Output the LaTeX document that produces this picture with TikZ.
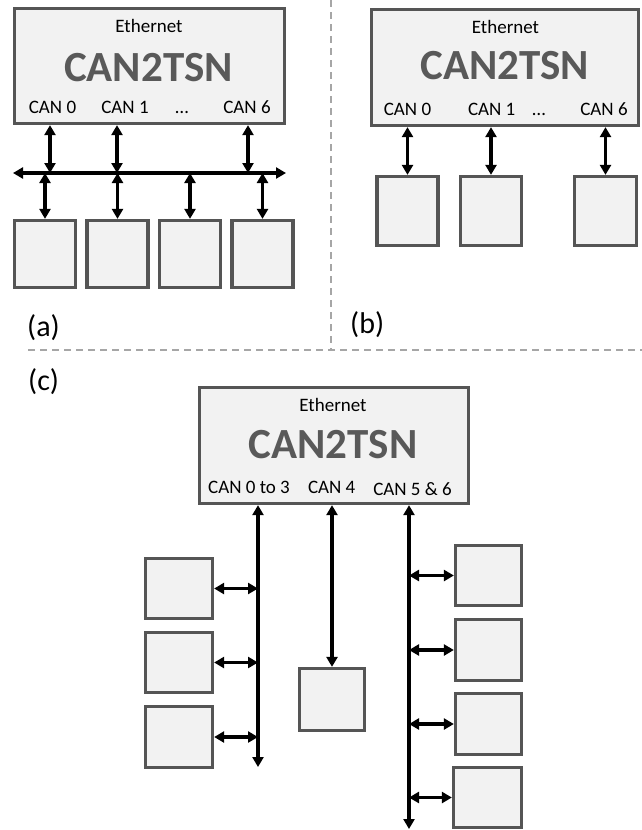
\documentclass[tikz,border=0pt]{standalone}
\usepackage{fontspec}
\setmainfont{Carlito}
\usetikzlibrary{arrows.meta}
\definecolor{boxfill}{HTML}{F2F2F2}
\definecolor{boxdraw}{HTML}{555555}
\definecolor{titlegray}{HTML}{595959}
\definecolor{sepgray}{HTML}{A6A6A6}
\tikzset{
  unit/.style={draw=boxdraw, fill=boxfill, line width=3.3pt, inner sep=0pt},
  txt/.style={font=\fontsize{19}{21}\selectfont, anchor=base, inner sep=0pt},
  ttl/.style={font=\fontsize{43}{45}\selectfont\bfseries, text=titlegray, anchor=base, inner sep=0pt},
  lab/.style={font=\fontsize{30}{32}\selectfont, anchor=base west, inner sep=0pt},
  link/.style={line width=3.4pt, {Triangle[length=10pt,width=11pt]}-{Triangle[length=10pt,width=11pt]}},
  sepline/.style={draw=sepgray, line width=1.5pt, dash pattern=on 7pt off 5pt},
}
\begin{document}
\begin{tikzpicture}[x=1pt,y=-1pt]
\useasboundingbox (0,0) rectangle (642,830);
% separators
\coordinate (vsTop) at (331,0);
\coordinate (vsBot) at (331,350);
\coordinate (hsL) at (28,350);
\coordinate (hsR) at (642,350);
\draw[sepline] (vsTop) -- (vsBot);
\draw[sepline] (hsL) -- (hsR);

% ---------------- (a) ----------------
\node[unit, minimum width=270pt, minimum height=115pt] (A) at (149.5,66) {};
\node[txt] (Aeth) at (149,32) {Ethernet};
\node[ttl] (Attl) at (148.5,81) {CAN2TSN};
\node[txt] (Ac0) at (52.5,113) {CAN 0};
\node[txt] (Ac1) at (125,113) {CAN 1};
\node[txt] (Acd) at (182,113) {…};
\node[txt] (Ac6) at (247,113) {CAN 6};
\foreach \i/\cx in {1/45,2/117.5,3/190,4/262.5}
  \node[unit, minimum width=61pt, minimum height=67pt] (a\i) at (\cx,254) {};
\coordinate (busAL) at (13,173);
\coordinate (busAR) at (286,173);
\draw[link] (busAL) -- (busAR);
\coordinate (busA0) at (50,173);
\coordinate (busA1) at (117,173);
\coordinate (busA6) at (248,173);
\draw[link] (A.south -| busA0) -- (busA0);
\draw[link] (A.south -| busA1) -- (busA1);
\draw[link] (A.south -| busA6) -- (busA6);
\foreach \i in {1,2,3,4}
  \draw[link] (a\i.north |- busAL) -- (a\i.north);
\node[lab] (la) at (27,336) {(a)};

% ---------------- (b) ----------------
\node[unit, minimum width=267pt, minimum height=116pt] (B) at (505,67.5) {};
\node[txt] (Beth) at (505.5,33) {Ethernet};
\node[ttl] (Bttl) at (504.7,79) {CAN2TSN};
\node[txt] (Bc0) at (407.5,115) {CAN 0};
\node[txt] (Bc1) at (491.7,115) {CAN 1};
\node[txt] (Bcd) at (539,115) {…};
\node[txt] (Bc6) at (604,115) {CAN 6};
\node[unit, minimum width=61pt, minimum height=69pt] (b1) at (407.5,211) {};
\node[unit, minimum width=61pt, minimum height=69pt] (b2) at (491,211) {};
\node[unit, minimum width=62pt, minimum height=69pt] (b3) at (605.5,211) {};
\foreach \i in {1,2,3}
  \draw[link] (B.south -| b\i.north) -- (b\i.north);
\node[lab] (lb) at (350,333) {(b)};

% ---------------- (c) ----------------
\node[lab] (lc) at (28,390) {(c)};
\node[unit, minimum width=269pt, minimum height=116pt] (C) at (334,445.5) {};
\node[txt] (Ceth) at (333,411.5) {Ethernet};
\node[ttl] (Cttl) at (333,458) {CAN2TSN};
\node[txt] (Cc0) at (249,493) {CAN 0 to 3};
\node[txt] (Cc4) at (331.7,493) {CAN 4};
\node[txt] (Cc5) at (412.5,495) {CAN 5 \& 6};

\coordinate (busC0) at (258,767);
\coordinate (busC5) at (409,829);
\draw[link] (C.south -| busC0) -- (busC0);
\draw[link] (C.south -| busC5) -- (busC5);

\node[unit, minimum width=67pt, minimum height=60pt] (l1) at (179,588.5) {};
\node[unit, minimum width=67pt, minimum height=60pt] (l2) at (179,662.5) {};
\node[unit, minimum width=67pt, minimum height=61pt] (l3) at (179,737) {};
\foreach \i in {1,2,3}
  \draw[link] (l\i.east) -- (l\i.east -| busC0);

\node[unit, minimum width=65pt, minimum height=62pt] (m1) at (332,699.5) {};
\draw[link] (C.south -| m1.north) -- (m1.north);

\node[unit, minimum width=66pt, minimum height=60pt] (r1) at (488.5,575.5) {};
\node[unit, minimum width=66pt, minimum height=61pt] (r2) at (488.5,650) {};
\node[unit, minimum width=66pt, minimum height=61pt] (r3) at (488.5,724) {};
\node[unit, minimum width=68pt, minimum height=60pt] (r4) at (487.5,797.5) {};
\foreach \i in {1,2,3,4}
  \draw[link] (r\i.west -| busC5) -- (r\i.west);
\end{tikzpicture}
\end{document}
